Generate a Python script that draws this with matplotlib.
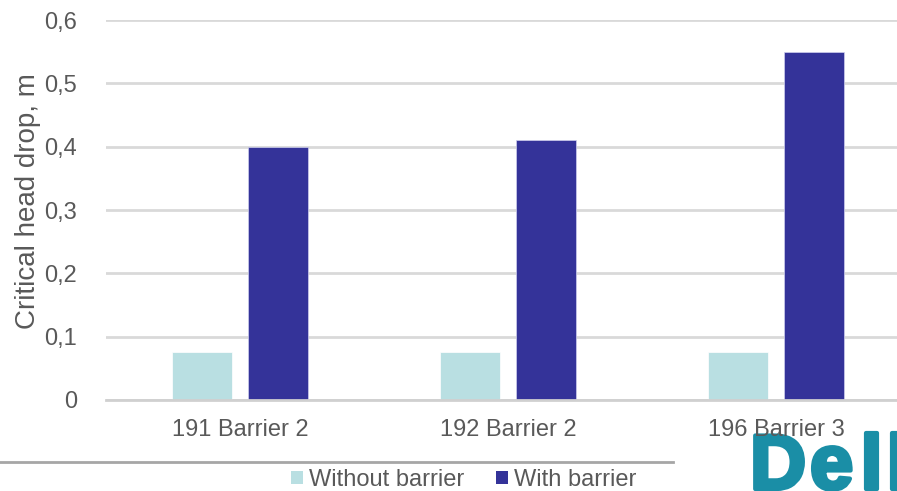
import matplotlib
matplotlib.use('Agg')
import matplotlib.pyplot as plt
from matplotlib.lines import Line2D
from matplotlib.patches import Patch
from matplotlib.ticker import FuncFormatter
import matplotlib.patheffects as pe
import numpy as np

categories = ['191 Barrier 2', '192 Barrier 2', '196 Barrier 3']
without_barrier = [0.076, 0.076, 0.076]
with_barrier = [0.40, 0.41, 0.55]
series_names = ['Without barrier', 'With barrier']

LIGHT = '#b9dfe2'
DARK = '#343399'
TEXT = '#595959'
GRID = '#d9d9d9'
TEAL = '#1a8ea6'

W, H = 897, 491
plt.rcParams['font.family'] = ['Liberation Sans', 'DejaVu Sans']

fig = plt.figure(figsize=(W / 100, H / 100), dpi=100)
ax = fig.add_axes([106 / W, 91 / H, 804 / W, 380 / H])
ax.set_zorder(2)

x = np.arange(len(categories))
bw = 0.224
off = 0.1418
ax.bar(x - off, without_barrier, bw, color=LIGHT, edgecolor='white', linewidth=0.5, zorder=3)
ax.bar(x + off, with_barrier, bw, color=DARK, edgecolor='#cfd0ee', linewidth=0.5, zorder=3)

ax.set_xlim(-0.5, 2.5)
ax.set_ylim(0, 0.6)
ax.set_yticks(np.arange(0, 0.61, 0.1))
ax.yaxis.set_major_formatter(FuncFormatter(lambda v, p: '0' if abs(v) < 1e-9 else f'{v:.1f}'.replace('.', ',')))
ax.set_xticks(x)
ax.set_xticklabels(categories)
ax.grid(axis='y', color=GRID, linewidth=2, zorder=0)
for s in ['top', 'right', 'left']:
    ax.spines[s].set_visible(False)
ax.spines['bottom'].set_color('#d0d0d0')
ax.spines['bottom'].set_linewidth(2)
ax.spines['bottom'].set_zorder(4)
ax.tick_params(axis='both', length=0, labelsize=17, labelcolor=TEXT)
ax.tick_params(axis='y', pad=21)
ax.tick_params(axis='x', pad=14)

fig.text(28 / W, 1 - 201 / H, 'Critical head drop, m', fontsize=20, color=TEXT,
         rotation=90, ha='center', va='center')

handles = [Patch(facecolor=LIGHT), Patch(facecolor=DARK)]
fig.legend(handles, series_names, loc='center', bbox_to_anchor=(464 / W, 1 - 480 / H),
           ncol=2, frameon=False, fontsize=17, labelcolor=TEXT,
           handlelength=0.51, handleheight=0.51, handletextpad=0.25,
           columnspacing=1.35, borderpad=0)

fig.add_artist(Line2D([0, 673 / W], [1 - 462 / H] * 2, transform=fig.transFigure,
                      color='#a6a6a6', linewidth=2))

# logo in the corner, cut off by the figure edge, behind the axis labels
for letter, lx in zip('Dell', [750, 810, 861, 887]):
    fig.text(lx / W, 1 - 432 / H, letter, fontsize=56, fontweight='bold', color=TEAL,
             va='top', ha='left', zorder=1,
             path_effects=[pe.Stroke(linewidth=3, foreground=TEAL), pe.Normal()])

fig.savefig('out.png', dpi=100)
